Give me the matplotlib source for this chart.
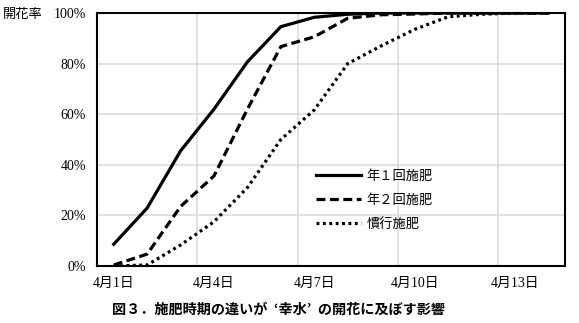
import matplotlib
matplotlib.use("Agg")
import matplotlib.pyplot as plt
from matplotlib.ticker import FixedLocator, PercentFormatter

# Days from 4/1 to 4/14
days = [f"4月{d}日" for d in range(1, 15)]

# Flowering rate (%) for each fertilization regime
once_a_year = [8.6, 22.9, 45.5, 62.0, 80.7, 94.6, 98.3, 99.5, 100, 100, 100, 100, 100, 100]
twice_a_year = [0.4, 4.7, 23.5, 35.6, 62.0, 86.7, 90.6, 97.9, 99.3, 99.6, 100, 100, 100, 100]
conventional = [0.0, 0.4, 8.3, 17.5, 31.0, 50.0, 61.7, 80.0, 87.0, 93.5, 98.5, 99.5, 100, 100]

series_labels = ["年１回施肥", "年２回施肥", "慣行施肥"]
yticks = [0, 20, 40, 60, 80, 100]
title = "図３．施肥時期の違いが  ‘幸水’  の開花に及ぼす影響"
ylabel = "開花率"

serif_fam = ["Liberation Serif", "Noto Sans CJK JP"]
gothic_fam = ["Noto Sans CJK JP", "DejaVu Sans"]

fig = plt.figure(figsize=(5.79, 3.23), dpi=100)
ax = fig.add_axes([97 / 579, 1 - 266 / 323, (565 - 97) / 579, (266 - 13) / 323])

x = list(range(len(days)))
lw = 2.3
ax.plot(x, once_a_year, color="black", lw=lw, solid_joinstyle="miter",
        label=series_labels[0])
ax.plot(x, twice_a_year, color="black", lw=lw, linestyle=(0, (2.8, 1.4)),
        label=series_labels[1])
ax.plot(x, conventional, color="black", lw=lw, linestyle=(0, (0.9, 1.1)),
        label=series_labels[2])

ax.set_xlim(-0.5, len(days) - 0.5)
ax.set_ylim(0, 100)

# Labels every third day, gridlines on category boundaries
label_pos = list(range(0, len(days), 3))
ax.xaxis.set_major_locator(FixedLocator(label_pos))
ax.set_xticklabels([days[i] for i in label_pos], family=serif_fam, fontsize=10)
ax.xaxis.set_minor_locator(FixedLocator([p - 0.5 for p in label_pos]))
ax.tick_params(axis="x", which="both", length=0, pad=8)

ax.set_yticks(yticks)
ax.yaxis.set_major_formatter(PercentFormatter(decimals=0))
for t in ax.get_yticklabels():
    t.set_family(serif_fam)
    t.set_fontsize(10)
ax.tick_params(axis="y", length=0, pad=8)

ax.grid(True, which="major", axis="y", color="#d9d9d9", lw=1.1)
ax.grid(True, which="minor", axis="x", color="#d9d9d9", lw=1.1)
ax.set_axisbelow(True)

for s in ax.spines.values():
    s.set_color("black")
    s.set_linewidth(1.5)

leg = ax.legend(loc="upper left", bbox_to_anchor=(0.468, 0.38), frameon=False,
                handlelength=3.4, handletextpad=0.4, labelspacing=0.85,
                prop={"family": serif_fam, "size": 9.5}, borderaxespad=0,
                borderpad=0)

fig.text(3 / 579, 1 - 14 / 323, ylabel, family=gothic_fam, fontsize=9.5,
         ha="left", va="center")
fig.text(278 / 579, 1 - 310 / 323, title, family=gothic_fam, fontsize=10.2,
         fontweight="bold", ha="center", va="center")

fig.savefig("out.png", dpi=100)
